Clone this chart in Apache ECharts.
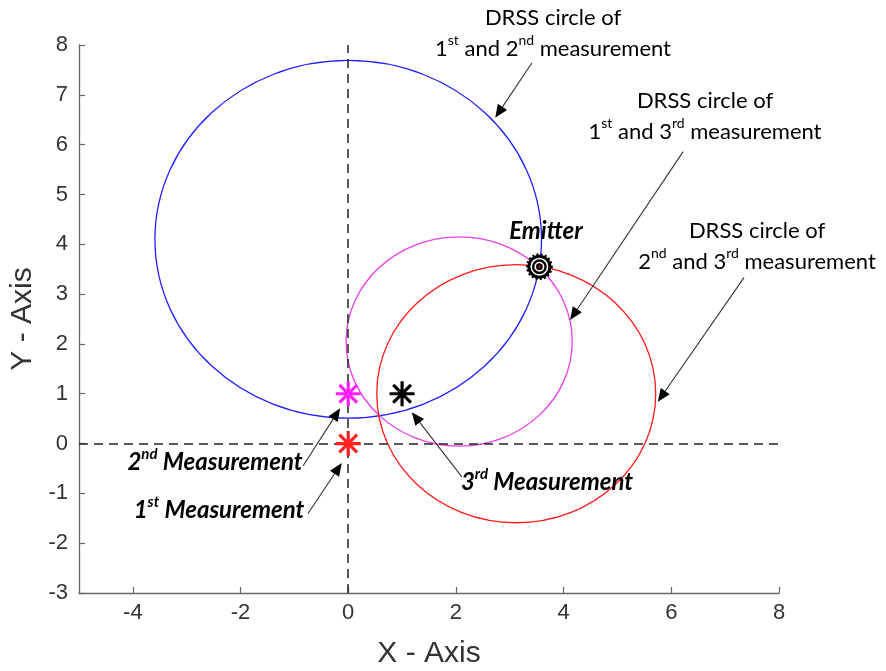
<!DOCTYPE html>
<html><head><meta charset="utf-8">
<script src="https://cdn.jsdelivr.net/npm/echarts@6/dist/echarts.min.js"></script>
<style>html,body{margin:0;padding:0;background:#fff}#c{width:886px;height:671px}</style>
</head><body><div id="c"></div>
<script>
// ---- data ----
const xTicks = [-4, -2, 0, 2, 4, 6, 8];
const yTicks = [-3, -2, -1, 0, 1, 2, 3, 4, 5, 6, 7, 8];
const circleNames = ['1st & 2nd', '1st & 3rd', '2nd & 3rd'];
const circleCenterX = [0, 2.06, 3.12];
const circleCenterY = [4.1, 2.05, 1.0];
const circleRadius = [3.59, 2.1, 2.59];
const measurementNames = ['1st Measurement', '2nd Measurement', '3rd Measurement'];
const measurementX = [0, 0, 1];
const measurementY = [0, 1, 1];
const emitterX = [3.55];
const emitterY = [3.55];
const arrowTailX = [3.41, 6.22, 7.35, -0.84, -0.75, 2.11];
const arrowTailY = [7.64, 5.86, 3.33, -0.45, -1.41, -0.67];
const arrowTipX = [2.73, 4.12, 5.75, -0.15, -0.12, 1.18];
const arrowTipY = [6.54, 2.48, 0.84, 0.71, -0.39, 0.63];

// ---- styles ----
const circleColors = ['#2020ff', '#e83ee8', '#ff1a1a'];
const measurementColors = ['#ff2020', '#ff20ff', '#000000'];
const tickFont = 'Liberation Sans';
const noteFont = 'Lato';

const chart = echarts.init(document.getElementById('c'), null, {renderer: 'canvas'});

const circleData = circleNames.map((n, i) => [circleCenterX[i], circleCenterY[i], circleRadius[i], i]);
const arrowData = arrowTailX.map((x, i) => [x, arrowTailY[i], arrowTipX[i], arrowTipY[i]]);
const asteriskPath = 'path://M12,0L12,24M0,12L24,12M3.5,3.5L20.5,20.5M3.5,20.5L20.5,3.5';

const measurementSeries = measurementNames.map((n, i) => ({
  type: 'scatter', name: n, z: 5,
  data: [[measurementX[i], measurementY[i]]],
  symbol: asteriskPath, symbolSize: 25,
  itemStyle: {color: 'rgba(0,0,0,0)', borderColor: measurementColors[i], borderWidth: 3.2, opacity: 1},
  emphasis: {disabled: true}, silent: true
}));

const axisCommon = {
  type: 'value',
  axisLine: {show: true, onZero: false, lineStyle: {color: '#666', width: 1.3}},
  axisTick: {show: true, inside: true, length: 6, lineStyle: {color: '#666', width: 1.2}},
  splitLine: {show: false},
  nameLocation: 'middle',
  nameTextStyle: {fontFamily: tickFont, fontSize: 30, color: '#333'}
};

const T = (o) => Object.assign({}, o);
const richBase = {
  n: {fontFamily: noteFont, fontSize: 22, lineHeight: 31, color: '#111'},
  s: {fontFamily: noteFont, fontSize: 14, lineHeight: 14, verticalAlign: 'top', color: '#111'}
};
const richBold = {
  n: {fontFamily: noteFont, fontSize: 24, fontWeight: 'bold', fontStyle: 'italic', lineHeight: 30, color: '#111'},
  s: {fontFamily: noteFont, fontSize: 15, fontWeight: 'bold', fontStyle: 'italic', lineHeight: 15, verticalAlign: 'top', color: '#111'}
};
function textEl(x, y, text, rich) {
  return {type: 'text', x: x, y: y, z: 100,
    style: {text: text, rich: rich, align: 'center', verticalAlign: 'middle', textAlign: 'center', textVerticalAlign: 'middle'}};
}

chart.setOption({
  animation: false,
  backgroundColor: '#fff',
  grid: {left: 79, right: 107, top: 45, bottom: 78, containLabel: false, outerBoundsMode: 'none'},
  xAxis: Object.assign(T(axisCommon), {
    min: -5, max: 8, name: 'X - Axis', nameGap: 46,
    axisTick: Object.assign({}, axisCommon.axisTick, {customValues: xTicks}),
    axisLabel: {customValues: xTicks, fontFamily: tickFont, fontSize: 22, color: '#333', margin: 9}
  }),
  yAxis: Object.assign(T(axisCommon), {
    min: -3, max: 8, interval: 1, name: 'Y - Axis', nameGap: 40,
    axisTick: Object.assign({}, axisCommon.axisTick, {customValues: yTicks}),
    axisLabel: {customValues: yTicks, fontFamily: tickFont, fontSize: 22, color: '#333', margin: 11}
  }),
  series: [
    {
      type: 'custom', name: 'DRSS circles', z: 2, silent: true,
      data: circleData,
      renderItem: function (params, api) {
        const c = api.coord([api.value(0), api.value(1)]);
        const s = api.size([api.value(2), api.value(2)]);
        return {type: 'ellipse', shape: {cx: c[0], cy: c[1], rx: s[0], ry: s[1]},
          style: {fill: 'none', stroke: circleColors[api.value(3)], lineWidth: 1.3}};
      },
      markLine: {
        silent: true, symbol: 'none', label: {show: false},
        lineStyle: {color: '#222', width: 1.5, type: [9, 6]},
        data: [{xAxis: 0}, {yAxis: 0}]
      }
    },
    ...measurementSeries,
    {
      type: 'custom', name: 'Emitter', z: 6, silent: true,
      data: emitterX.map((x, i) => [x, emitterY[i]]),
      renderItem: function (params, api) {
        const c = api.coord([api.value(0), api.value(1)]);
        return {type: 'group', children: [
          {type: 'circle', shape: {cx: c[0], cy: c[1], r: 12.3}, style: {fill: 'none', stroke: '#000', lineWidth: 2.2, lineDash: [2, 2.2]}},
          {type: 'circle', shape: {cx: c[0], cy: c[1], r: 10.5}, style: {fill: '#fff', stroke: '#000', lineWidth: 3}},
          {type: 'circle', shape: {cx: c[0], cy: c[1], r: 6.2}, style: {fill: '#fff', stroke: '#000', lineWidth: 2.4}},
          {type: 'circle', shape: {cx: c[0], cy: c[1], r: 3.4}, style: {fill: '#000'}},
          {type: 'circle', shape: {cx: c[0], cy: c[1], r: 1.3}, style: {fill: '#a00'}}
        ]};
      }
    },
    {
      type: 'custom', name: 'Arrows', z: 7, silent: true,
      data: arrowData,
      renderItem: function (params, api) {
        const a = api.coord([api.value(0), api.value(1)]);
        const b = api.coord([api.value(2), api.value(3)]);
        const dx = b[0] - a[0], dy = b[1] - a[1], L = Math.hypot(dx, dy);
        const ux = dx / L, uy = dy / L, hl = 13, hw = 5.5;
        const bx = b[0] - ux * hl, by = b[1] - uy * hl;
        return {type: 'group', children: [
          {type: 'line', shape: {x1: a[0], y1: a[1], x2: bx, y2: by}, style: {stroke: '#333', lineWidth: 1.1}},
          {type: 'polygon', shape: {points: [[b[0], b[1]], [bx - uy * hw, by + ux * hw], [bx + uy * hw, by - ux * hw]]}, style: {fill: '#000'}}
        ]};
      }
    }
  ],
  graphic: [
    textEl(553, 33, '{n|DRSS circle of}\n{n|1}{s|st}{n| and 2}{s|nd}{n| measurement}', richBase),
    textEl(705, 116, '{n|DRSS circle of}\n{n|1}{s|st}{n| and 3}{s|rd}{n| measurement}', richBase),
    textEl(757, 246, '{n|DRSS circle of}\n{n|2}{s|nd}{n| and 3}{s|rd}{n| measurement}', richBase),
    textEl(546, 231, '{n|Emitter}', richBold),
    textEl(215, 462, '{n|2}{s|nd}{n| Measurement}', richBold),
    textEl(219, 510, '{n|1}{s|st}{n| Measurement}', richBold),
    textEl(547, 482, '{n|3}{s|rd}{n| Measurement}', richBold)
  ]
});
</script>
</body></html>
